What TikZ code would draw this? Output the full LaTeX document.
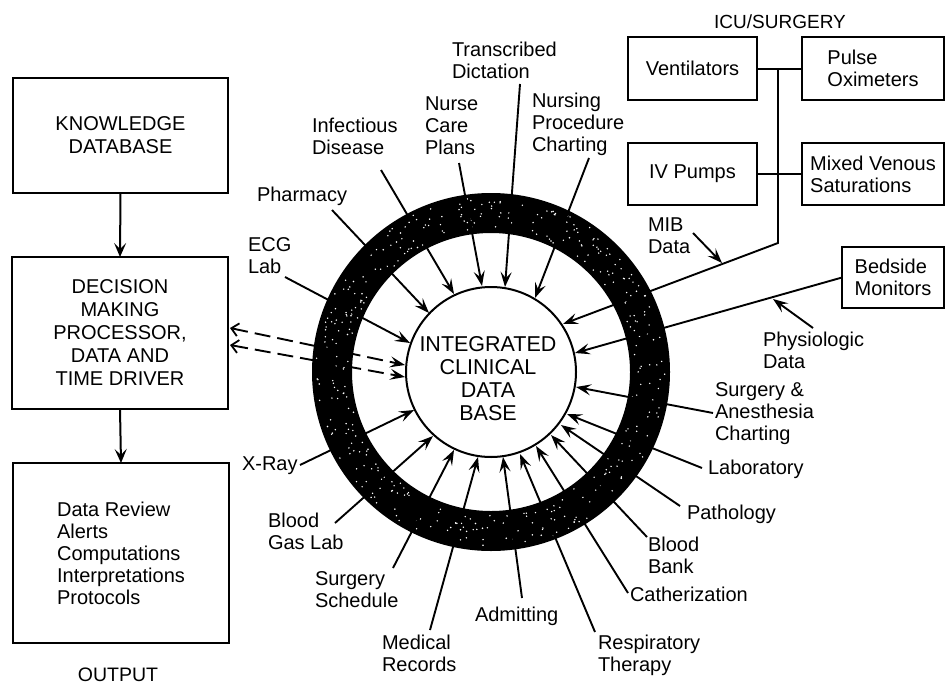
\documentclass[tikz,border=0pt]{standalone}
\usepackage{fontspec}
\setmainfont{Liberation Sans}
\usetikzlibrary{arrows.meta}
\begin{document}
\begin{tikzpicture}[x=1pt,y=-1pt,
  every node/.style={inner sep=0pt, outer sep=0pt},
  boxn/.style={draw, line width=2pt, align=center, font=\fontsize{20}{23}\selectfont},
  rbox/.style={draw, line width=2pt, align=left, font=\fontsize{20}{22}\selectfont},
  lbl/.style={anchor=north west, align=left, font=\fontsize{20}{22}\selectfont},
  conn/.style={line width=2pt},
  inarr/.style={line width=1.9pt, -{Stealth[length=15pt,width=11pt,inset=6pt]}},
  dasharr/.style={line width=1.9pt, dash pattern=on 16pt off 7pt, {Straight Barb[length=7pt,width=13pt,line width=1.8pt]}-{Stealth[length=15pt,width=11pt,inset=6pt]}},
  vert/.style={line width=2pt, -{Stealth[length=14pt,width=12pt,inset=6pt]}},
]
\useasboundingbox (0,0) rectangle (947,685);

% ring
\coordinate (C) at (491,372);
\fill[black, even odd rule] (C) circle[radius=179pt] (C) circle[radius=139pt];
\pgfmathsetseed{7}
\foreach \i in {1,...,380}{
  \pgfmathsetmacro\ang{rnd*360}
  \pgfmathsetmacro\rad{143+32*rnd}
  \fill[white] ([shift={(C)}]\ang:\rad pt) circle (0.8pt);
}

% tips on inner circle
\coordinate (tECG) at (410,343);
\coordinate (tPha) at (429,313);
\coordinate (tInf) at (454,294);
\coordinate (tNur) at (482,286);
\coordinate (tTra) at (505,287);
\coordinate (tNpc) at (535,298);
\coordinate (tMib) at (563,324);
\coordinate (tBed) at (575,353);
\coordinate (tSur) at (576,387);
\coordinate (tLab) at (567,414);
\coordinate (tPat) at (561,425);
\coordinate (tBb) at (551,435);
\coordinate (tCat) at (536,446);
\coordinate (tRes) at (520,454);
\coordinate (tAdm) at (503,457);
\coordinate (tMed) at (478,457);
\coordinate (tSch) at (454,450);
\coordinate (tBgl) at (433,436);
\coordinate (tXr) at (414,410);
\coordinate (tD1) at (405,365);
\coordinate (tD2) at (405,377);

% starts
\coordinate (sECG) at (285,277);
\coordinate (sPha) at (332,210);
\coordinate (sInf) at (381,170);
\coordinate (sNur) at (459,163);
\coordinate (sTra) at (520,84);
\coordinate (sNpc) at (589,158);
\coordinate (sSur) at (713,413);
\coordinate (sLab) at (702,468);
\coordinate (sPat) at (680,506);
\coordinate (sBb) at (647,537);
\coordinate (sCat) at (628,593);
\coordinate (sRes) at (595,632);
\coordinate (sAdm) at (522,598);
\coordinate (sMed) at (430,630);
\coordinate (sSch) at (393,568);
\coordinate (sBgl) at (335,523);
\coordinate (sXr) at (300,465);
\coordinate (sD1) at (230,328);
\coordinate (sD2) at (230,345);

% central data base
\node[circle, draw, line width=2pt, fill=white, minimum size=170pt] (db) at (C) {};
\node[align=center, font=\fontsize{21.5}{23}\selectfont] (dbt) at (488,379) {INTEGRATED\\CLINICAL\\DATA\\BASE};

% left column
\node[boxn, minimum width=215pt, minimum height=115pt] (kb) at (120.5,135.5) {KNOWLEDGE\\DATABASE};
\node[boxn, minimum width=216pt, minimum height=152pt] (dm) at (120,333) {DECISION\\MAKING\\PROCESSOR,\\DATA AND\\TIME DRIVER};
\node[boxn, minimum width=216pt, minimum height=180pt, align=left, font=\fontsize{20}{22}\selectfont] (out) at (121,553) {Data Review\\Alerts\\Computations\\Interpretations\\Protocols};
\node[anchor=north, font=\fontsize{19.5}{22}\selectfont] (outl) at (118,668) {OUTPUT};
\draw[vert] (kb.south) -- (dm.north);
\draw[vert] (dm.south) -- (out.north);

% right ICU boxes
\node[anchor=north, font=\fontsize{19}{22}\selectfont] (icu) at (780,15) {ICU/SURGERY};
\node[rbox, minimum width=129pt, minimum height=63pt] (vent) at (692.5,68.5) {Ventilators};
\node[rbox, minimum width=142pt, minimum height=63pt] (pulse) at (873,68.5) {Pulse\\Oximeters};
\node[rbox, minimum width=129pt, minimum height=62pt] (ivp) at (692.5,174) {IV Pumps};
\node[rbox, minimum width=142pt, minimum height=62pt] (mixed) at (873,174) {Mixed Venous\\Saturations};
\node[rbox, minimum width=102pt, minimum height=61pt] (bed) at (893,277.5) {Bedside\\Monitors};
\draw[conn] (vent.east) -- (pulse.west);
\draw[conn] (ivp.east) -- (mixed.west);
\coordinate (bustop) at (778,68.5);
\coordinate (busbot) at (778,243);
\draw[inarr] (bustop) -- (busbot) -- (tMib);
\draw[inarr] (bed.west) -- (tBed);

% small pointer arrows
\node[lbl] (mibl) at (648,218) {MIB\\Data};
\coordinate (mibs) at (693,233);
\coordinate (mibt) at (722,263);
\draw[inarr] (mibs) -- (mibt);
\node[lbl] (phl) at (763,332) {Physiologic\\Data};
\coordinate (phs) at (813,328);
\coordinate (pht) at (773,299);
\draw[inarr] (phs) -- (pht);

% labels
\node[lbl] (lTra) at (452,42) {Transcribed\\Dictation};
\node[lbl] (lNur) at (425,97) {Nurse\\Care\\Plans};
\node[lbl] (lNpc) at (532,93) {Nursing\\Procedure\\Charting};
\node[lbl] (lInf) at (312,118) {Infectious\\Disease};
\node[lbl] (lPha) at (257,187) {Pharmacy};
\node[lbl] (lECG) at (248,238) {ECG\\Lab};
\node[lbl] (lXr) at (242,457) {X-Ray};
\node[lbl] (lBgl) at (268,513) {Blood\\Gas Lab};
\node[lbl] (lSch) at (315,572) {Surgery\\Schedule};
\node[lbl] (lMed) at (382,635) {Medical\\Records};
\node[lbl] (lAdm) at (475,607) {Admitting};
\node[lbl] (lRes) at (598,635) {Respiratory\\Therapy};
\node[lbl] (lCat) at (630,587) {Catherization};
\node[lbl] (lBb) at (648,537) {Blood\\Bank};
\node[lbl] (lPat) at (687,505) {Pathology};
\node[lbl] (lLab) at (708,460) {Laboratory};
\node[lbl] (lSur) at (715,383) {Surgery \&\\Anesthesia\\Charting};

% arrows into the data base
\foreach \n in {ECG,Pha,Inf,Nur,Tra,Npc,Sur,Lab,Pat,Bb,Cat,Res,Adm,Med,Sch,Bgl,Xr}{
  \draw[inarr] (s\n) -- (t\n);
}
\draw[dasharr] (sD1) -- (tD1);
\draw[dasharr] (sD2) -- (tD2);
\end{tikzpicture}
\end{document}
